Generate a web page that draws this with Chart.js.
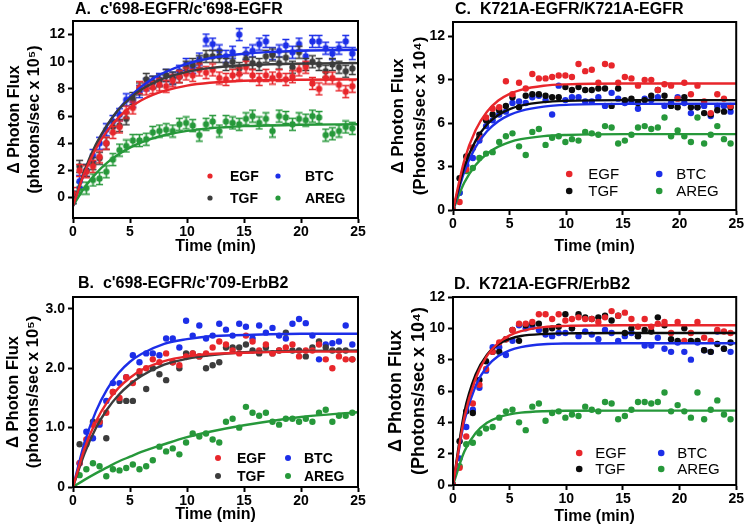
<!DOCTYPE html>
<html>
<head>
<meta charset="utf-8">
<script src="https://cdn.jsdelivr.net/npm/chart.js@4.4.0/dist/chart.umd.min.js"></script>
<style>
  body { margin: 0; background: #fff; }
  canvas { position: absolute; }
</style>
</head>
<body>
<canvas id="chartA" width="372" height="265" style="left:0;top:0"></canvas>
<canvas id="chartC" width="373" height="265" style="left:372px;top:0"></canvas>
<canvas id="chartB" width="372" height="266" style="left:0;top:265px"></canvas>
<canvas id="chartD" width="373" height="266" style="left:372px;top:265px"></canvas>
<script>
// sample times (min), shared by all panels
const times = [0,0.58,1.17,1.75,2.33,2.92,3.5,4.08,4.67,5.25,5.83,6.42,7,7.58,8.17,8.75,9.33,9.92,10.5,11.08,11.67,12.25,12.83,13.42,14,14.58,15.17,15.75,16.33,16.92,17.5,18.08,18.67,19.25,19.83,20.42,21,21.58,22.17,22.75,23.33,23.92,24.5];
const xTicks = [0, 5, 10, 15, 20, 25];

// A. c'698-EGFR/c'698-EGFR
const aEGF = [0.3,2.0,1.9,2.3,3.0,4.0,4.8,5.2,6.3,6.6,8.1,8.0,8.1,8.3,8.2,8.6,8.9,9.1,9.0,9.4,9.2,9.4,8.8,8.7,9.0,9.1,9.6,9.0,8.7,9.0,8.8,9.0,8.7,8.9,9.4,9.6,8.4,8.0,8.8,8.8,8.3,7.8,8.2];
const aTGF = [0,2.3,2.0,2.5,2.9,4.0,5.2,5.3,5.8,7.3,8.0,8.7,8.5,8.6,9.0,8.8,8.9,9.6,9.8,10.0,10.4,10.4,10.4,9.8,10.0,9.5,10.2,9.9,9.8,10.4,10.5,9.9,10.3,9.6,10.7,9.8,10.0,9.8,9.3,9.8,9.6,9.3,9.5];
const aBTC = [0,1.2,2.0,3.1,4.0,5.0,5.6,6.1,7.2,7.1,7.8,8.3,8.5,8.7,9.0,8.8,9.3,9.8,9.6,10.2,11.6,11.3,10.8,10.4,10.7,12.0,10.6,10.8,11.3,11.5,10.6,10.8,11.2,10.7,11.3,10.4,11.5,11.5,11.0,10.6,11.0,11.5,10.6];
const aAREG = [0,0.7,0.7,1.3,1.4,1.9,2.8,3.5,3.8,4.2,4.2,4.3,4.8,4.9,5.0,4.9,5.4,5.5,5.3,4.6,5.4,5.6,4.9,5.6,5.5,5.4,5.8,6.0,5.5,5.8,4.9,6.0,5.9,5.4,5.8,5.7,6.0,5.9,4.6,4.7,4.9,5.2,5.1];
const aFitT = [0,1,2,3,4,5,6,7,8,10,12,15,20,25];
const aFitEGF = [-0.6,1.81,3.59,4.91,5.90,6.63,7.17,7.57,7.85,8.24,8.45,8.60,8.68,8.7];
const aFitTGF = [-0.6,1.96,3.90,5.36,6.48,7.31,7.95,8.42,8.79,9.26,9.53,9.74,9.86,9.9];
const aFitBTC = [-0.6,1.85,3.78,5.30,6.50,7.44,8.17,8.76,9.21,9.85,10.26,10.59,10.81,10.88];
const aFitAREG = [-0.6,0.73,1.76,2.57,3.19,3.68,4.06,4.36,4.59,4.91,5.10,5.26,5.36,5.4];
const aYTicks = [0, 2, 4, 6, 8, 10, 12];

// B. c'698-EGFR/c'709-ErbB2
const bEGF = [0,0.4,0.8,1.05,1.1,1.25,1.6,1.5,1.85,1.75,1.95,2.0,2.15,2.1,2.25,2.1,2.05,2.2,2.25,2.2,2.25,2.35,2.45,2.4,2.3,2.25,2.55,2.45,2.3,2.4,2.25,2.3,2.35,2.4,2.2,2.3,2.3,2.4,2.15,2.0,2.2,2.15,2.15];
const bTGF = [0,0.72,0.72,1.1,1.1,0.82,1.6,1.45,1.45,1.45,1.9,1.65,2.0,1.9,1.8,2.1,2.0,2.25,2.25,2.2,2.0,2.05,2.1,2.35,2.35,2.35,2.4,2.3,2.25,2.35,2.25,2.3,2.6,2.3,2.3,2.2,2.35,2.45,2.35,2.3,2.3,2.3,2.15];
const bBTC = [0,0.4,0.93,0.82,1.05,1.45,1.75,1.75,1.85,2.22,2.1,2.25,2.25,2.22,2.5,2.5,2.35,2.8,2.55,2.72,2.5,2.55,2.75,2.65,2.55,2.75,2.7,2.5,2.72,2.6,2.68,2.55,2.5,2.75,2.83,2.76,2.55,2.15,2.4,2.42,2.45,2.72,2.4];
const bAREG = [0,0.2,0.3,0.4,0.35,0.18,0.3,0.28,0.32,0.38,0.3,0.35,0.45,0.68,0.6,0.65,0.55,0.75,0.9,0.85,0.9,0.8,0.75,1.1,1.15,1.0,1.35,1.25,1.2,1.25,1.1,1.05,1.15,1.15,1.1,1.15,1.1,1.25,1.3,1.1,1.2,1.2,1.25];
const bFitT = [0,1,2,3,4,5,6,8,10,12,15,20,25];
const bFitEGF = [0,0.64,1.10,1.43,1.67,1.84,1.97,2.12,2.20,2.24,2.26,2.28,2.28];
const bFitTGF = [0,0.56,0.99,1.31,1.55,1.73,1.87,2.06,2.16,2.22,2.27,2.29,2.3];
const bFitBTC = [0,0.74,1.27,1.65,1.92,2.11,2.24,2.41,2.49,2.54,2.56,2.58,2.58];
const bFitAREG = [0,0.12,0.23,0.33,0.43,0.51,0.59,0.72,0.84,0.93,1.04,1.18,1.26];
const bYTicks = [0, 1, 2, 3];
const bYLabels = ['0', '1.0', '2.0', '3.0'];

// C. K721A-EGFR/K721A-EGFR
const cEGF = [0,0.55,2.8,4.3,5.0,6.4,7.0,7.1,8.9,8.0,8.8,8.4,9.4,9.1,9.1,9.2,9.3,9.3,9.2,10.1,9.6,9.7,8.8,10.1,10.0,8.8,9.2,9.1,8.6,9.0,9.0,8.3,8.7,8.6,7.7,8.8,8.0,8.6,7.5,6.7,8.0,7.7,7.2];
const cTGF = [0,2.2,3.7,4.3,5.2,6.2,6.6,6.9,7.2,7.8,7.1,7.9,8.0,8.0,7.9,7.8,7.8,8.5,8.3,8.5,8.3,8.3,8.4,8.4,7.2,8.4,7.6,7.7,7.4,7.6,7.9,8.3,7.9,7.2,7.1,7.8,7.1,7.1,6.7,6.6,6.9,6.8,7.1];
const cBTC = [0,1.2,3.1,3.6,4.8,5.8,6.2,6.6,6.8,7.4,7.5,7.4,7.8,7.9,7.6,6.6,8.6,7.6,7.8,7.8,7.5,7.5,7.8,7.2,8.1,7.7,7.4,7.5,7.0,7.7,7.6,7.8,7.2,7.4,7.8,7.4,6.7,7.1,7.2,6.5,7.2,7.2,6.8];
const cAREG = [0,1.2,2.7,2.9,3.6,3.9,4.0,4.7,5.1,5.3,4.4,3.8,5.4,5.6,4.5,5.0,5.1,4.7,4.9,4.8,5.4,5.3,5.2,5.8,5.7,4.6,4.8,5.2,5.7,5.8,5.6,5.7,6.4,5.1,5.5,5.1,4.7,6.4,4.6,5.2,5.8,4.9,4.6];
const cFitT = [0,1,2,3,4,5,6,8,10,15,25];
const cFitEGF = [0,3.44,5.53,6.80,7.57,8.03,8.31,8.59,8.69,8.75,8.75];
const cFitTGF = [0,2.99,4.80,5.91,6.57,6.98,7.22,7.46,7.55,7.6,7.6];
const cFitBTC = [0,2.66,4.36,5.45,6.14,6.58,6.86,7.15,7.27,7.34,7.35];
const cFitAREG = [0,1.90,3.11,3.89,4.38,4.70,4.90,5.11,5.19,5.25,5.25];
const cYTicks = [0, 3, 6, 9, 12];

// D. K721A-EGFR/ErbB2
const dEGF = [0,1.1,3.1,5.2,6.4,7.4,8.5,9.1,9.3,9.9,10.3,10.3,10.4,10.9,10.9,10.6,10.9,10.5,10.6,10.7,10.6,10.6,10.4,10.7,11.1,10.8,11.0,10.6,10.1,10.6,10.1,10.3,10.4,9.7,10.4,9.2,9.7,10.4,9.4,9.2,9.9,9.8,9.7];
const dTGF = [0,2.8,4.7,4.6,6.7,7.9,8.5,8.5,9.3,9.9,9.2,10.2,10.3,10.3,9.9,10.0,10.1,10.9,10.0,10.9,10.7,10.6,10.7,10.8,10.5,10.8,9.7,10.0,9.5,9.9,9.8,10.7,10.2,9.3,9.2,10.0,9.2,9.2,8.6,8.5,9.0,8.7,9.1];
const dBTC = [0,1.7,3.7,4.8,6.2,7.3,8.8,8.8,8.3,9.2,10.2,10.0,10.1,9.9,9.6,9.5,9.7,9.7,10.0,9.5,9.8,9.6,9.3,9.9,9.7,9.2,9.5,9.7,9.5,8.9,8.9,9.4,8.7,8.5,9.1,8.5,8.0,9.1,8.6,8.5,9.8,8.7,8.5];
const dAREG = [0,1.2,2.6,2.7,3.3,3.6,3.7,4.3,4.7,4.8,4.0,3.5,5.0,5.2,4.1,4.6,4.7,4.3,4.5,4.4,5.0,4.8,4.7,5.3,5.2,4.2,4.4,4.8,5.3,5.3,5.2,5.3,5.9,4.7,5.1,4.7,4.3,5.9,4.2,4.8,5.4,4.5,4.2];
const dFitT = [0,1,2,3,4,5,6,8,10,15,25];
const dFitEGF = [0,4.31,6.80,8.24,9.07,9.55,9.82,10.08,10.16,10.2,10.2];
const dFitTGF = [0,4.64,7.05,8.32,8.98,9.32,9.51,9.64,9.68,9.7,9.7];
const dFitBTC = [0,4.08,6.33,7.56,8.23,8.60,8.80,8.98,9.03,9.05,9.05];
const dFitAREG = [0,2.14,3.32,3.97,4.32,4.51,4.62,4.71,4.74,4.75,4.75];
const dYTicks = [0, 2, 4, 6, 8, 10, 12];

const RED = '#e8262b';
const BLUE = '#1c2ee8';
const GREEN = '#26983a';
const GRAY = '#3c3c3c';
const BLACK = '#0c0c0c';
const FONT = "'Liberation Sans', Arial, sans-serif";

function pts(xs, ys) {
  return ys.map((y, i) => ({ x: xs[i], y: y }));
}

// dot with a small error bar, used for panel A
function errMarker(color) {
  const c = document.createElement('canvas');
  c.width = 9; c.height = 15;
  const g = c.getContext('2d');
  g.strokeStyle = color; g.fillStyle = color; g.lineWidth = 1.6;
  g.beginPath(); g.moveTo(4.5, 1.5); g.lineTo(4.5, 13.5);
  g.moveTo(1, 1.5); g.lineTo(8, 1.5);
  g.moveTo(1, 13.5); g.lineTo(8, 13.5);
  g.stroke();
  g.beginPath(); g.arc(4.5, 7.5, 3.2, 0, Math.PI * 2); g.fill();
  return c;
}

const panelDecor = {
  id: 'panelDecor',
  afterDraw(chart, args, opts) {
    const ctx = chart.ctx, a = chart.chartArea;
    ctx.save();
    ctx.lineWidth = 2;
    ctx.strokeStyle = '#000';
    ctx.strokeRect(a.left, a.top, a.right - a.left, a.bottom - a.top);
    ctx.fillStyle = '#000';
    ctx.textAlign = 'left';
    ctx.textBaseline = 'middle';
    ctx.font = 'bold 16px ' + FONT;
    ctx.fillText(opts.title, a.left + opts.titleDx, a.top + opts.titleDy);
    ctx.font = opts.legendFont;
    opts.items.forEach((it, i) => {
      const col = i < 2 ? 0 : 1, row = i % 2;
      const y = a.bottom + opts.rows[row];
      ctx.fillStyle = it.color;
      ctx.beginPath();
      ctx.arc(a.right + opts.dots[col], y, opts.dotR, 0, Math.PI * 2);
      ctx.fill();
      ctx.fillStyle = '#000';
      ctx.fillText(it.label, a.right + opts.texts[col], y + 1);
    });
    ctx.restore();
  }
};

function makePanel(id, p) {
  const ctx = document.getElementById(id).getContext('2d');
  const datasets = [];
  p.series.forEach(s => {
    datasets.push({
      data: pts(p.fitT, s.fit),
      borderColor: s.color,
      borderWidth: 2.4,
      pointRadius: 0,
      showLine: true,
      cubicInterpolationMode: 'monotone',
      order: 1
    });
  });
  p.series.forEach(s => {
    datasets.push({
      data: pts(times, s.values),
      backgroundColor: s.color,
      borderColor: s.color,
      borderWidth: 0,
      pointRadius: 3.2,
      pointStyle: p.errBars ? errMarker(s.color) : 'circle',
      order: 2
    });
  });
  const tickFont = { family: FONT, size: 14, weight: 'bold' };
  const xTitleFont = { family: FONT, size: 16, weight: 'bold', lineHeight: 1.3 };
  const yTitleFont = { family: FONT, size: p.yTitleSize, weight: 'bold', lineHeight: 1.25 };
  const grid = { display: true, drawOnChartArea: false, drawTicks: true, tickLength: 5, tickWidth: 2, tickColor: '#000' };
  new Chart(ctx, {
    type: 'scatter',
    data: { datasets },
    plugins: [panelDecor],
    options: {
      responsive: false,
      animation: false,
      events: [],
      layout: { autoPadding: false, padding: { left: 0, top: p.top, right: p.right, bottom: 0 } },
      plugins: {
        legend: { display: false },
        tooltip: { enabled: false },
        panelDecor: p.decor
      },
      scales: {
        x: {
          type: 'linear', min: 0, max: 25,
          afterBuildTicks: sc => { sc.ticks = xTicks.map(v => ({ value: v })); },
          afterFit: sc => { sc.height = p.xh; },
          ticks: { font: tickFont, color: '#000', padding: 1 },
          grid, border: { display: true, color: '#000', width: 2 },
          title: { display: true, text: 'Time (min)', font: xTitleFont, color: '#000', padding: { top: 0, bottom: p.xTitlePad } }
        },
        y: {
          type: 'linear', min: p.yMin, max: p.yMax,
          afterBuildTicks: sc => { sc.ticks = p.yTicks.map(v => ({ value: v })); },
          afterFit: sc => { sc.width = p.yw; },
          ticks: {
            font: tickFont, color: '#000', padding: 3,
            callback: (v) => p.yLabels ? p.yLabels[p.yTicks.indexOf(v)] : String(v)
          },
          grid, border: { display: true, color: '#000', width: 2 },
          title: { display: true, text: p.yTitle, font: yTitleFont, color: '#000', padding: { top: p.yTitlePad, bottom: 0 } }
        }
      }
    }
  });
}

function seriesOf(egf, tgf, btc, areg, fits, tgfColor) {
  return [
    { label: 'EGF', color: RED, values: egf, fit: fits[0] },
    { label: 'TGF', color: tgfColor, values: tgf, fit: fits[1] },
    { label: 'BTC', color: BLUE, values: btc, fit: fits[2] },
    { label: 'AREG', color: GREEN, values: areg, fit: fits[3] }
  ];
}

function legendItems(tgfColor) {
  return [
    { label: 'EGF', color: RED }, { label: 'TGF', color: tgfColor },
    { label: 'BTC', color: BLUE }, { label: 'AREG', color: GREEN }
  ];
}

makePanel('chartA', {
  series: seriesOf(aEGF, aTGF, aBTC, aAREG, [aFitEGF, aFitTGF, aFitBTC, aFitAREG], GRAY),
  fitT: aFitT, errBars: true,
  yMin: -1.5, yMax: 13, yTicks: aYTicks,
  yTitle: ['\u0394 Photon Flux', '(photons/sec x 10\u2075)'], yTitleSize: 16,
  top: 21, right: 14, xh: 47, yw: 73, xTitlePad: 8, yTitlePad: 5,
  decor: {
    title: "A.  c'698-EGFR/c'698-EGFR", titleDx: 2, titleDy: -11,
    legendFont: 'bold 14px ' + FONT, items: legendItems(GRAY), dotR: 2.6,
    rows: [-42, -20], dots: [-148, -80], texts: [-128, -53]
  }
});

makePanel('chartC', {
  series: seriesOf(cEGF, cTGF, cBTC, cAREG, [cFitEGF, cFitTGF, cFitBTC, cFitAREG], BLACK),
  fitT: cFitT, errBars: false,
  yMin: 0, yMax: 13, yTicks: cYTicks,
  yTitle: ['\u0394 Photon Flux', '(Photons/sec x 10\u2074)'], yTitleSize: 17,
  top: 22, right: 7, xh: 55, yw: 81, xTitlePad: 8, yTitlePad: 16,
  decor: {
    title: 'C.  K721A-EGFR/K721A-EGFR', titleDx: 2, titleDy: -12,
    legendFont: '15px ' + FONT, items: legendItems(BLACK), dotR: 3.3,
    rows: [-36, -19], dots: [-167, -77], texts: [-148, -60]
  }
});

makePanel('chartB', {
  series: seriesOf(bEGF, bTGF, bBTC, bAREG, [bFitEGF, bFitTGF, bFitBTC, bFitAREG], GRAY),
  fitT: bFitT, errBars: false,
  yMin: 0, yMax: 3.2, yTicks: bYTicks, yLabels: bYLabels,
  yTitle: ['\u0394 Photon Flux', '(photons/sec x 10\u2075)'], yTitleSize: 16.5,
  top: 32, right: 14, xh: 44, yw: 73, xTitlePad: 6, yTitlePad: 3,
  decor: {
    title: "B.  c'698-EGFR/c'709-ErbB2", titleDx: 5, titleDy: -13,
    legendFont: 'bold 14px ' + FONT, items: legendItems(GRAY), dotR: 3,
    rows: [-29, -11], dots: [-140, -70], texts: [-121, -54]
  }
});

makePanel('chartD', {
  series: seriesOf(dEGF, dTGF, dBTC, dAREG, [dFitEGF, dFitTGF, dFitBTC, dFitAREG], BLACK),
  fitT: dFitT, errBars: false,
  yMin: 0, yMax: 12, yTicks: dYTicks,
  yTitle: ['\u0394 Photon Flux', '(Photons/sec x 10\u2074)'], yTitleSize: 18,
  top: 32, right: 8, xh: 46, yw: 81, xTitlePad: 4, yTitlePad: 13,
  decor: {
    title: 'D.  K721A-EGFR/ErbB2', titleDx: 1, titleDy: -12,
    legendFont: '15px ' + FONT, items: legendItems(BLACK), dotR: 3.3,
    rows: [-32, -16], dots: [-157, -75], texts: [-141, -59]
  }
});
</script>
</body>
</html>
